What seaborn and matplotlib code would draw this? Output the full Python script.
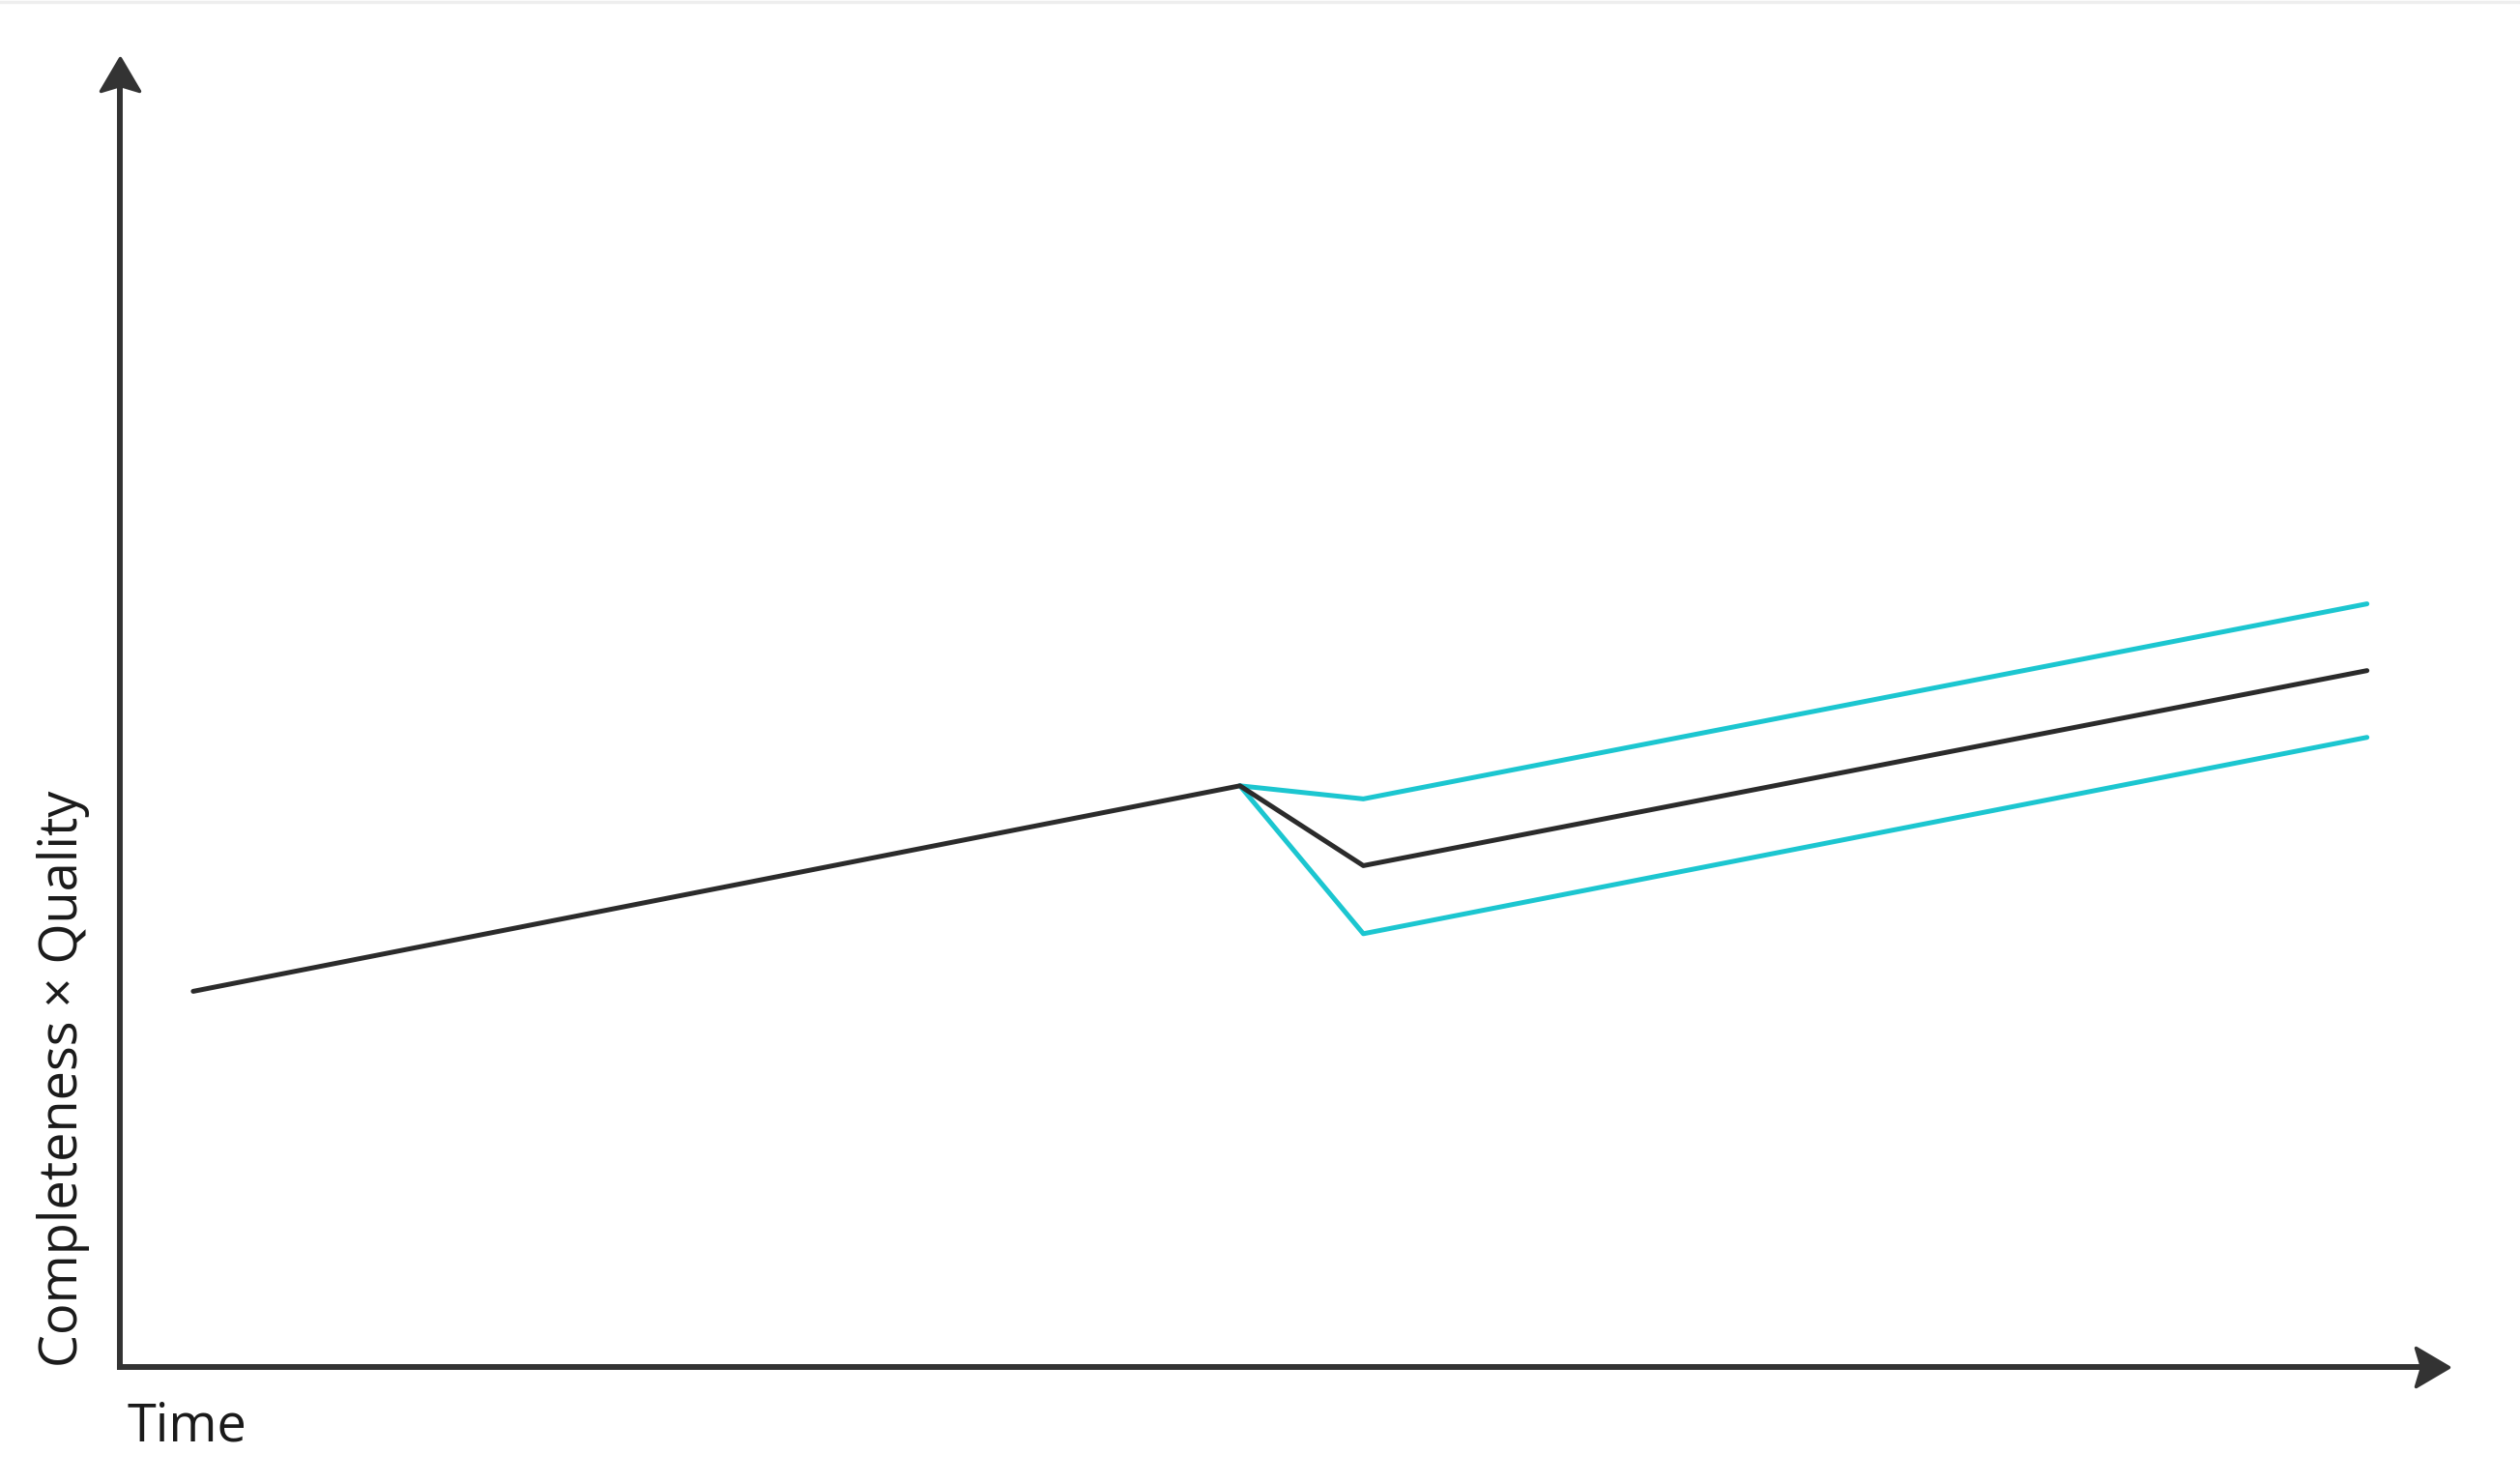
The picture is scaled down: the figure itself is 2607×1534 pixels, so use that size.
import matplotlib
matplotlib.use('Agg')
import matplotlib.pyplot as plt
from matplotlib.lines import Line2D
from matplotlib.markers import MarkerStyle
from matplotlib.path import Path
import pandas as pd
import seaborn as sns

# Chart values (relative units)
time_main = [3.15, 48.1, 53.4, 96.5]
quality_main = [28.7, 44.4, 38.3, 53.2]
time_branch = [48.1, 53.4, 96.5]
quality_upper = [44.4, 43.4, 58.3]
quality_lower = [44.4, 33.1, 48.1]

x_label = 'Time'
y_label = 'Completeness × Quality'

BLACK = '#2b2b2b'
AXIS = '#333333'
CYAN = '#1cc6d0'

if __name__ == '__main__':
    sns.set_style('white')
    plt.rcParams['font.family'] = ['Open Sans', 'DejaVu Sans']

    # Build one long table with a series id so each branch is its own line
    df = pd.concat([
        pd.DataFrame({'time': time_branch, 'quality': quality_upper, 'series': 'upper'}),
        pd.DataFrame({'time': time_branch, 'quality': quality_lower, 'series': 'lower'}),
        pd.DataFrame({'time': time_main, 'quality': quality_main, 'series': 'main'}),
    ], ignore_index=True)

    W, H = 2607, 1534
    fig = plt.figure(figsize=(W / 100, H / 100), dpi=100)
    left, right, bottom, top = 124, 2533, 1414, 60
    ax = fig.add_axes([left / W, 1 - bottom / H, (right - left) / W, (bottom - top) / H])

    sns.lineplot(data=df, x='time', y='quality', hue='series', units='series',
                 estimator=None, sort=False,
                 palette={'upper': CYAN, 'lower': CYAN, 'main': BLACK},
                 hue_order=['upper', 'lower', 'main'],
                 linewidth=3.6, legend=False, ax=ax)

    ax.set_xlim(0, 100)
    ax.set_ylim(0, 100)
    ax.set_xticks([])
    ax.set_yticks([])
    for s in ax.spines.values():
        s.set_visible(False)

    # Axis shafts
    shaft = dict(arrowstyle='-', color=AXIS, lw=4.3, shrinkA=0, shrinkB=0,
                 capstyle='projecting')
    ax.annotate('', xy=(0.99, 0), xytext=(0, 0), xycoords='axes fraction',
                textcoords='axes fraction', arrowprops=shaft, annotation_clip=False)
    ax.annotate('', xy=(0, 0.98), xytext=(0, 0), xycoords='axes fraction',
                textcoords='axes fraction', arrowprops=shaft, annotation_clip=False)

    # Stealth-like arrow heads (tip at the marker origin)
    codes = [Path.MOVETO, Path.LINETO, Path.LINETO, Path.LINETO, Path.CLOSEPOLY]
    head_right = Path([(0, 0), (-34, 20), (-28, 0), (-34, -20), (0, 0)], codes)
    head_up = Path([(0, 0), (-20, -34), (0, -28), (20, -34), (0, 0)], codes)
    ms = 2 * 34 * 0.72
    for path, xy in [(head_right, (1, 0)), (head_up, (0, 1))]:
        ax.plot([xy[0]], [xy[1]], marker=MarkerStyle(path, joinstyle='round'),
                markersize=ms, color=AXIS, mec=AXIS, mew=2.5,
                transform=ax.transAxes, clip_on=False, linestyle='none')

    ax.set_xlabel(x_label, fontsize=39, color='#1a1a1a', loc='left', labelpad=25)
    ax.xaxis.label.set_x(7 / (right - left))
    ax.set_ylabel(y_label, fontsize=39, color='#1a1a1a', loc='bottom', labelpad=22)

    # thin grey band along the top edge
    fig.add_artist(Line2D([0, 1], [1 - 1.5 / H, 1 - 1.5 / H], transform=fig.transFigure,
                          color='#eeeeee', lw=2.5))

    fig.savefig('out.png', dpi=100, facecolor='white')
